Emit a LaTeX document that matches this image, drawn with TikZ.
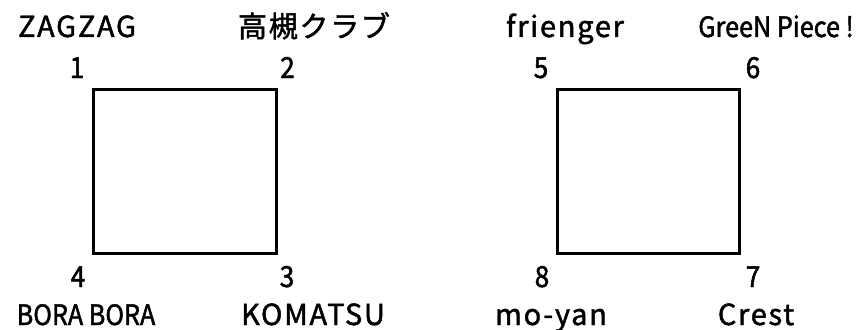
\documentclass[tikz,border=0pt]{standalone}
\usepackage{fontspec}
\setmainfont{Noto Sans CJK JP}
\newfontfamily\wideteamfont[LetterSpace=6,FakeBold=1.6]{Noto Sans CJK JP}
\newfontfamily\narrowfont[FakeStretch=0.9,FakeBold=1.6]{Noto Sans CJK JP}
\tikzset{
  team/.style={anchor=base, inner sep=0pt, font=\wideteamfont\fontsize{29}{29}\selectfont},
  narrowteam/.style={anchor=base, inner sep=0pt, font=\narrowfont\fontsize{28}{28}\selectfont},
  slot/.style={anchor=base, inner sep=0pt, font=\narrowfont\fontsize{29}{29}\selectfont},
}
\begin{document}
\begin{tikzpicture}[x=1pt, y=-1pt, line width=3pt]
  \useasboundingbox (0,0) rectangle (858,329);

  % left group
  \draw (93.5,89) rectangle (276.5,253);
  \node[slot] (n1) at (77,78) {1};
  \node[slot] (n2) at (287.5,78) {2};
  \node[slot] (n3) at (287,287) {3};
  \node[slot] (n4) at (78,287) {4};
  \node[team] (zagzag) at (77,37) {ZAGZAG};
  \node[team] (takatsuki) at (314,37) {高槻クラブ};
  \node[narrowteam] (bora) at (86,325) {BORA BORA};
  \node[team] (komatsu) at (313,325) {KOMATSU};

  % right group
  \draw (557,89) rectangle (739,253);
  \node[slot] (n5) at (541,78) {5};
  \node[slot] (n6) at (753,78) {6};
  \node[slot] (n7) at (753,287) {7};
  \node[slot] (n8) at (542,287) {8};
  \node[team] (frienger) at (565,37) {frienger};
  \node[narrowteam] (greenpiece) at (776,37) {GreeN Piece !};
  \node[team] (moyan) at (551,325) {mo-yan};
  \node[team] (crest) at (756,325) {Crest};
\end{tikzpicture}
\end{document}
